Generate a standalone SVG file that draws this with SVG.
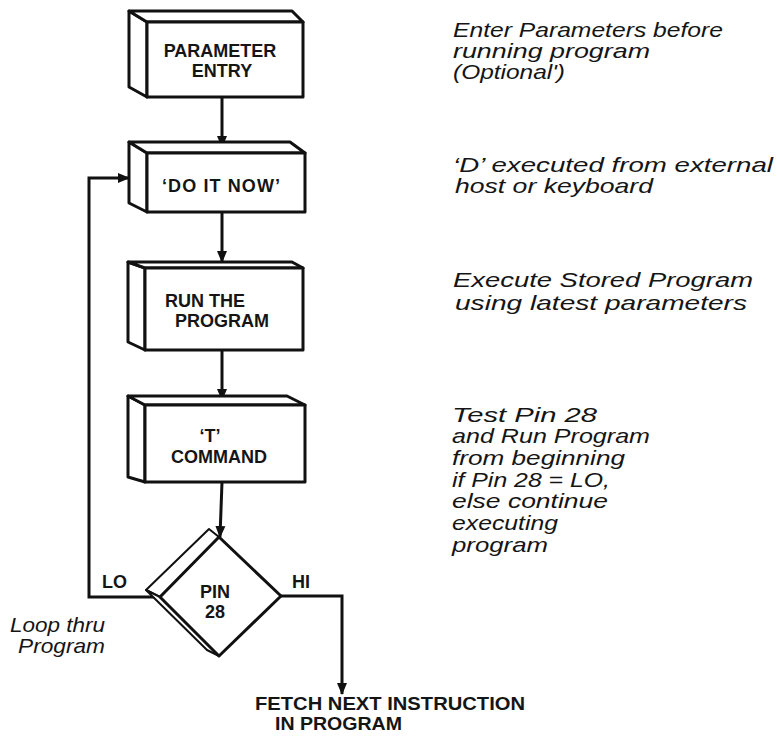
<svg xmlns="http://www.w3.org/2000/svg" width="777" height="736" viewBox="0 0 777 736">
<style>
.face{fill:#fff;stroke:#111;stroke-width:3;stroke-linejoin:round}
.thin{fill:#fff;stroke:#111;stroke-width:2;stroke-linejoin:round}
.lbl{font-family:"Liberation Sans",Arial,sans-serif;font-weight:bold;font-size:18px;fill:#151515}
.note{font-family:"Liberation Sans",Arial,sans-serif;font-style:italic;font-size:21px;fill:#151515}
.conn{fill:none;stroke:#111;stroke-width:3}
</style>
<defs>
<marker id="ah" markerWidth="12" markerHeight="12" viewBox="0 0 12 12" refX="11" refY="6" orient="auto" markerUnits="userSpaceOnUse">
<path d="M0,1 L12,6 L0,11 Z" fill="#111"/>
</marker>
</defs>
<rect width="777" height="736" fill="#fff"/>

<g id="connectors">
<line class="conn" x1="222" y1="97" x2="222" y2="147" marker-end="url(#ah)"/>
<line class="conn" x1="222" y1="212" x2="222" y2="262" marker-end="url(#ah)"/>
<line class="conn" x1="222" y1="350" x2="222" y2="400" marker-end="url(#ah)"/>
<line class="conn" x1="222" y1="482" x2="220" y2="537" marker-end="url(#ah)"/>
<polyline class="conn" points="160,597 89,597 89,178 129,178" marker-end="url(#ah)"/>
<polyline class="conn" points="281,596 342,596 342,694" marker-end="url(#ah)"/>
<text class="lbl" x="102" y="588" font-size="16">LO</text>
<text class="lbl" x="292" y="588" font-size="16">HI</text>
</g>

<g id="parameter-entry">
<polygon class="face" points="129,11 147,22 147,97 129,87"/>
<polygon class="face" points="129,11 292,11 303,22 147,22"/>
<rect class="face" x="147" y="22" width="156" height="75"/>
<text class="lbl" x="220" y="57" text-anchor="middle">PARAMETER</text>
<text class="lbl" x="222" y="77" text-anchor="middle">ENTRY</text>
</g>

<g id="do-it-now">
<polygon class="face" points="129,142 147,153 147,212 129,203"/>
<polygon class="face" points="129,142 290,142 305,153 147,153"/>
<rect class="face" x="147" y="153" width="158" height="59"/>
<text class="lbl" x="221" y="192" text-anchor="middle" textLength="118">‘DO IT NOW’</text>
</g>

<g id="run-the-program">
<polygon class="face" points="128,262 145,268 145,350 128,342"/>
<polygon class="face" points="128,262 292,262 303,268 145,268"/>
<rect class="face" x="145" y="268" width="158" height="82"/>
<text class="lbl" x="165" y="307">RUN THE</text>
<text class="lbl" x="175" y="327">PROGRAM</text>
</g>

<g id="t-command">
<polygon class="face" points="128,396 145,405 145,482 128,477"/>
<polygon class="face" points="128,396 287,396 305,405 145,405"/>
<rect class="face" x="145" y="405" width="160" height="77"/>
<text class="lbl" x="210" y="442" text-anchor="middle">‘T’</text>
<text class="lbl" x="219" y="463" text-anchor="middle">COMMAND</text>
</g>

<g id="pin-28">
<polygon class="thin" points="146,590 209,529 219,537 160,597"/>
<polygon class="thin" points="146,590 160,597 219,656 207,650"/>
<polygon class="face" points="219,537 281,596 219,656 160,597"/>
<text class="lbl" x="215" y="598" text-anchor="middle" font-size="16" font-weight="normal">PIN</text>
<text class="lbl" x="215" y="618" text-anchor="middle" font-size="16" font-weight="normal">28</text>
</g>

<g id="fetch-next">
<text class="lbl" x="255" y="710" font-size="16" textLength="270" lengthAdjust="spacingAndGlyphs">FETCH NEXT INSTRUCTION</text>
<text class="lbl" x="275" y="730" font-size="16" textLength="127" lengthAdjust="spacingAndGlyphs">IN PROGRAM</text>
</g>

<g id="notes">
<text class="note" x="453" y="37" textLength="270" lengthAdjust="spacingAndGlyphs">Enter Parameters before</text>
<text class="note" x="453" y="58" textLength="197" lengthAdjust="spacingAndGlyphs">running program</text>
<text class="note" x="453" y="79" textLength="112" lengthAdjust="spacingAndGlyphs">(Optional')</text>
<text class="note" x="453" y="172" textLength="320" lengthAdjust="spacingAndGlyphs">‘D’ executed from external</text>
<text class="note" x="455" y="193" textLength="198" lengthAdjust="spacingAndGlyphs">host or keyboard</text>
<text class="note" x="453" y="287" textLength="300" lengthAdjust="spacingAndGlyphs">Execute Stored Program</text>
<text class="note" x="455" y="310" textLength="292" lengthAdjust="spacingAndGlyphs">using latest parameters</text>
<text class="note" x="452" y="422" textLength="145" lengthAdjust="spacingAndGlyphs">Test Pin 28</text>
<text class="note" x="452" y="443" textLength="198" lengthAdjust="spacingAndGlyphs">and Run Program</text>
<text class="note" x="452" y="465" textLength="173" lengthAdjust="spacingAndGlyphs">from beginning</text>
<text class="note" x="452" y="487" textLength="158" lengthAdjust="spacingAndGlyphs">if Pin 28 = LO,</text>
<text class="note" x="452" y="508" textLength="156" lengthAdjust="spacingAndGlyphs">else continue</text>
<text class="note" x="452" y="530" textLength="106" lengthAdjust="spacingAndGlyphs">executing</text>
<text class="note" x="452" y="552" textLength="96" lengthAdjust="spacingAndGlyphs">program</text>
<text class="note" x="10" y="632" font-size="19" textLength="95" lengthAdjust="spacingAndGlyphs">Loop thru</text>
<text class="note" x="18" y="653" font-size="19" textLength="87" lengthAdjust="spacingAndGlyphs">Program</text>
</g>
</svg>
